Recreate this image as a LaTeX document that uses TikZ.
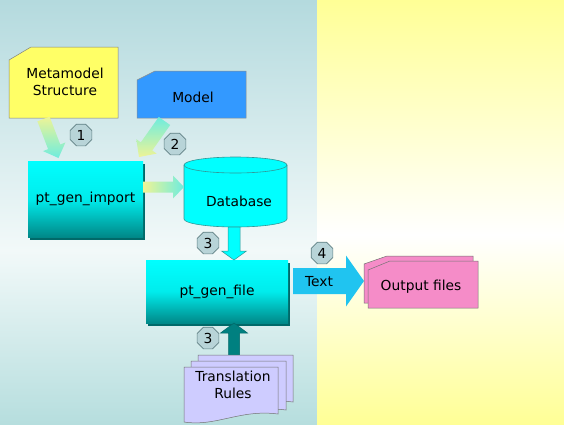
\documentclass[tikz,border=0pt]{standalone}
\usepackage{fontspec}
\setmainfont{DejaVu Sans}
\usetikzlibrary{calc,shapes.geometric,shadows}
\definecolor{bgLtop}{RGB}{180,218,222}
\definecolor{bgLmid}{RGB}{242,249,249}
\definecolor{bgLbot}{RGB}{182,222,222}
\definecolor{bgYel}{RGB}{255,255,150}
\definecolor{metaY}{RGB}{255,255,102}
\definecolor{modelB}{RGB}{51,153,255}
\definecolor{cyanT}{RGB}{0,255,255}
\definecolor{cyanM}{RGB}{0,236,236}
\definecolor{tealD}{RGB}{0,136,136}
\definecolor{tealS}{RGB}{0,105,105}
\definecolor{dbBorder}{RGB}{50,150,150}
\definecolor{tealArrow}{RGB}{0,128,128}
\definecolor{textArrow}{RGB}{32,196,240}
\definecolor{pinkOut}{RGB}{245,140,200}
\definecolor{lav}{RGB}{206,204,255}
\definecolor{badgeF}{RGB}{184,212,216}
\definecolor{badgeD}{RGB}{96,128,132}
\definecolor{paleY}{RGB}{238,244,150}
\definecolor{paleC}{RGB}{110,236,222}
\pgfdeclareverticalshading{procshade}{100bp}{color(0bp)=(tealD); color(25bp)=(tealD); color(50bp)=(cyanM); color(75bp)=(cyanT); color(100bp)=(cyanT)}
\newcommand\blockarrow[6]{%
  \coordinate (ba-h) at ($(#2)!#5!(#1)$);
  \path[#6] ($(#1)!#3!90:(#2)$) -- ($(ba-h)!#3!90:(#2)$) -- ($(ba-h)!#4!90:(#2)$)
    -- (#2) -- ($(ba-h)!#4!-90:(#2)$) -- ($(ba-h)!#3!-90:(#2)$) -- ($(#1)!#3!-90:(#2)$) -- cycle;}
\newcommand\docshape[5]{% x1, top, x2, bottom-left, bottom-right
  \path[docstyle] (#1,#2) -- (#3,#2) -- (#3,#5) .. controls ($(#3,#5)+(-38,-5)$) and ($(#1,#4)+(32,5)$) .. (#1,#4) -- cycle;}
\tikzset{
  lbl/.style={font=\fontsize{13.8}{16.5}\selectfont, align=center, inner sep=0pt, text=black},
  badge/.style={regular polygon, regular polygon sides=8, minimum size=23.5pt, inner sep=0pt,
    fill=badgeF, draw=badgeD, line width=0.7pt, font=\fontsize{13.8}{16.5}\selectfont},
  procbox/.style={lbl, shading=procshade, draw=none,
    drop shadow={shadow xshift=2pt, shadow yshift=-2.5pt, fill=tealS, opacity=1}},
  docstyle/.style={fill=lav, draw=black!55, line width=0.5pt},
  outstyle/.style={fill=pinkOut, draw=black!55, line width=0.5pt},
}
\begin{document}
\begin{tikzpicture}[x=1pt,y=-1pt]
\useasboundingbox (0,0) rectangle (564,424);
% background
\shade[top color=bgLtop, bottom color=bgLmid] (0,0) rectangle (317,250);
\shade[top color=bgLmid, bottom color=bgLbot] (0,250) rectangle (317,424);
\shade[top color=bgYel, bottom color=white] (317,0) rectangle (564,235);
\shade[top color=white, bottom color=bgYel] (317,235) rectangle (564,424);

% Metamodel Structure
\path[fill=metaY, draw=black!50, line width=0.5pt] (9,60) -- (31,47) -- (118,47) -- (118,118) -- (9,118) -- cycle;
\node[lbl] (meta) at (65,82) {Metamodel\\Structure};
% Model
\path[fill=modelB, draw=black!45, line width=0.5pt] (137,80) -- (155,71) -- (246,71) -- (246,118) -- (137,118) -- cycle;
\node[lbl] (model) at (193,97) {Model};

% pt_gen_import
\node[procbox, minimum width=115pt, minimum height=76pt] (imp) at (85.5,199) {pt\_gen\_import};

% Database cylinder
\path[fill=cyanT, draw=dbBorder, line width=0.6pt]
  (184,165) -- (184,219) .. controls (184,223.4) and (207.05,227) .. (235.5,227)
  .. controls (263.95,227) and (287,223.4) .. (287,219) -- (287,165)
  .. controls (287,160.6) and (263.95,157) .. (235.5,157)
  .. controls (207.05,157) and (184,160.6) .. (184,165) -- cycle;
\draw[dbBorder, line width=0.6pt] (184,165) .. controls (184,169.4) and (207.05,173) .. (235.5,173)
  .. controls (263.95,173) and (287,169.4) .. (287,165);
\node[lbl] (db) at (239,201) {Database};

% pt_gen_file
\node[procbox, minimum width=142pt, minimum height=63pt] (file) at (217,291.5) {pt\_gen\_file};

% arrows
\coordinate (a1s) at (43.5,119);
\coordinate (a1e) at (58.5,158);
\blockarrow{a1s}{a1e}{6.5pt}{12pt}{12pt}{top color=paleY, bottom color=paleC}
\coordinate (a2s) at (164.5,121);
\coordinate (a2e) at (139,157);
\blockarrow{a2s}{a2e}{7pt}{12.5pt}{13pt}{top color=paleC, bottom color=paleY}
\coordinate (a3s) at (imp.east |- 0,187);
\coordinate (a3e) at (184,187);
\blockarrow{a3s}{a3e}{5.5pt}{11.5pt}{11pt}{left color=paleY, right color=paleC}
\coordinate (a4s) at (234,227);
\coordinate (a4e) at (234,260);
\blockarrow{a4s}{a4e}{6pt}{12.5pt}{9pt}{fill=cyanT, draw=dbBorder, line width=0.5pt}

% Translation Rules stack
\coordinate (a5s) at (234,360);
\coordinate (a5e) at (234,323);
\blockarrow{a5s}{a5e}{5.5pt}{13.5pt}{10pt}{fill=tealArrow, draw=tealS, line width=0.5pt}
\docshape{198}{355}{293}{410}{402}
\docshape{191}{361}{286}{416}{410}
\docshape{184}{367}{278}{422}{414}
\node[lbl] (rules) at (233,385) {Translation\\Rules};

% Text arrow
\coordinate (a6s) at (293,281);
\coordinate (a6e) at (364,281);
\blockarrow{a6s}{a6e}{13pt}{25.5pt}{18pt}{fill=textArrow}
\node[lbl] (txt) at (319,282) {Text};

% Output files
\path[outstyle] (364,264) -- (387,256) -- (473,256) -- (473,303) -- (364,303) -- cycle;
\path[outstyle] (368,270) -- (390,261) -- (478,261) -- (478,308) -- (368,308) -- cycle;
\node[lbl] (out) at (421,287) {Output files};

% badges
\node[badge] (b1) at (81,135) {1};
\node[badge] (b2) at (175,144) {2};
\node[badge] (b3) at (208,243) {3};
\node[badge] (b3b) at (208,338) {3};
\node[badge] (b4) at (322,253) {4};
\end{tikzpicture}
\end{document}
